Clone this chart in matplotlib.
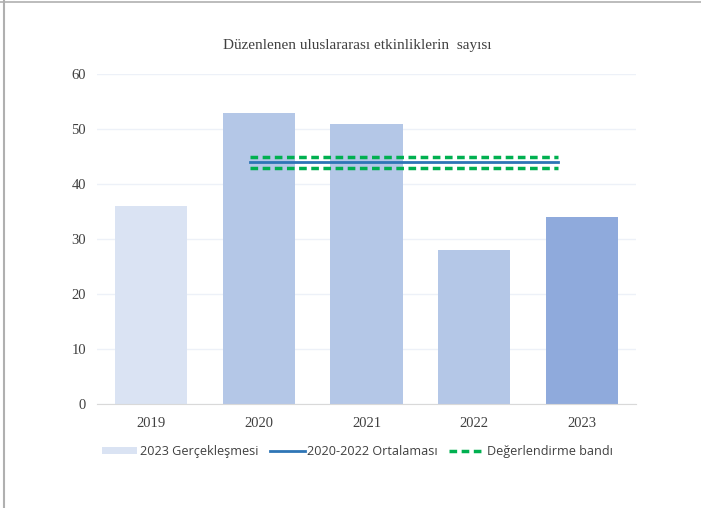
import matplotlib
matplotlib.use("Agg")
import matplotlib.pyplot as plt
from matplotlib.lines import Line2D
from matplotlib.patches import Patch

years = ["2019", "2020", "2021", "2022", "2023"]
counts = [36, 53, 51, 28, 34]
bar_colors = ["#dae3f3", "#b4c7e7", "#b4c7e7", "#b4c7e7", "#8faadc"]
avg_2020_2022 = 44
band_low, band_high = 43, 45
line_span = [0.92, 3.78]  # category units covered by the reference lines

serif = ["Liberation Serif", "DejaVu Serif"]
sans = ["Open Sans", "DejaVu Sans"]

fig = plt.figure(figsize=(7.01, 5.08), dpi=100)
ax = fig.add_axes([0.1384, 0.2047, 0.769, 0.6496])

x = range(len(years))
ax.bar(x, counts, width=0.67, color=bar_colors, zorder=2)
ax.plot(line_span, [avg_2020_2022] * 2, color="#2e75b6", lw=2, zorder=3)
for v in (band_low, band_high):
    ax.plot(line_span, [v] * 2, color="#00b050", lw=2.5, ls=(0, (2.2, 1.3)),
            zorder=3)

ax.set_xlim(-0.5, 4.5)
ax.set_ylim(0, 60)
ax.set_yticks(range(0, 61, 10))
ax.set_xticks(list(x))
ax.set_xticklabels(years)
for lab in ax.get_xticklabels() + ax.get_yticklabels():
    lab.set_family(serif)
    lab.set_fontsize(10.5)
    lab.set_color("#404040")
ax.tick_params(length=0)
ax.tick_params(axis="y", pad=8)
ax.tick_params(axis="x", pad=9)
ax.grid(axis="y", color="#edf1f8", lw=1, zorder=0)
for s in ("top", "right", "left"):
    ax.spines[s].set_visible(False)
ax.spines["bottom"].set_color("#d9d9d9")
ax.spines["bottom"].set_zorder(4)

fig.text(0.509, 0.911, "Düzenlenen uluslararası etkinliklerin  sayısı",
         ha="center", va="center", family=serif, fontsize=11, color="#404040")

handles = [
    Patch(facecolor="#dae3f3", edgecolor="none"),
    Line2D([], [], color="#2e75b6", lw=2),
    Line2D([], [], color="#00b050", lw=2.5, ls=(0, (2.2, 1.3))),
]
labels = ["2023 Gerçekleşmesi", "2020-2022 Ortalaması", "Değerlendirme bandı"]
leg = fig.legend(handles, labels, loc="center", bbox_to_anchor=(0.51, 0.112),
                 ncol=3, frameon=False, prop={"family": sans, "size": 9.1},
                 handlelength=2.8, handleheight=0.5, handletextpad=0.2,
                 columnspacing=0.9)
for t in leg.get_texts():
    t.set_color("#404040")

# thin frame on left and top edges, as in the source screenshot
fig.add_artist(Line2D([0.006, 0.006], [0, 1], transform=fig.transFigure,
                      color="#b0b0b0", lw=1.5))
fig.add_artist(Line2D([0, 1], [0.997, 0.997], transform=fig.transFigure,
                      color="#b0b0b0", lw=1.2))

fig.savefig("out.png", dpi=100)
